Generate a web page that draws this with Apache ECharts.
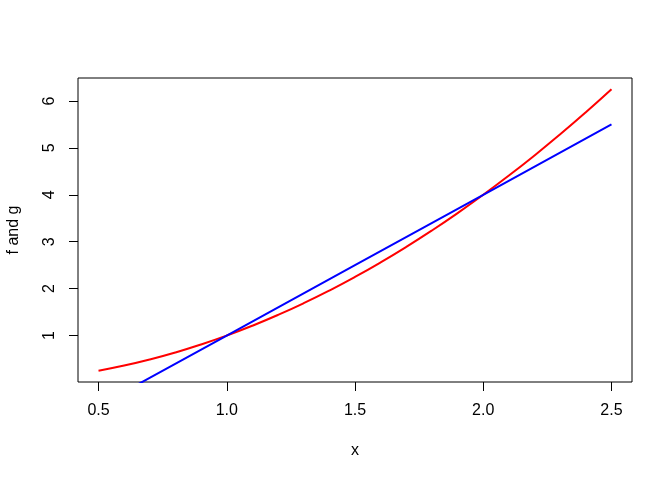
<!DOCTYPE html>
<html>
<head>
<meta charset="utf-8">
<script src="https://cdn.jsdelivr.net/npm/echarts@6/dist/echarts.min.js"></script>
<style>html,body{margin:0;padding:0;background:#fff}#c{width:672px;height:480px}</style>
</head>
<body>
<div id="c"></div>
<script>
// Data
var xs = [0.5, 0.6, 0.7, 0.8, 0.9, 1.0, 1.1, 1.2, 1.3, 1.4, 1.5, 1.6, 1.7, 1.8, 1.9, 2.0, 2.1, 2.2, 2.3, 2.4, 2.5];
var fValues = [0.25, 0.36, 0.49, 0.64, 0.81, 1.0, 1.21, 1.44, 1.69, 1.96, 2.25, 2.56, 2.89, 3.24, 3.61, 4.0, 4.41, 4.84, 5.29, 5.76, 6.25];
var gX = [0.5, 1.0, 1.5, 2.0, 2.5];
var gValues = [-0.5, 1.0, 2.5, 4.0, 5.5];
var xTicks = [0.5, 1.0, 1.5, 2.0, 2.5];
var yTicks = [1, 2, 3, 4, 5, 6];
var xLabel = 'x';
var yLabel = 'f and g';

var fData = xs.map(function (x, i) { return [x, fValues[i]]; });
var gData = gX.map(function (x, i) { return [x, gValues[i]]; });

var FONT = '"Liberation Sans", Arial, sans-serif';
var chart = echarts.init(document.getElementById('c'));
chart.setOption({
  animation: false,
  backgroundColor: '#fff',
  grid: { left: 78, right: 40, top: 78, bottom: 98, show: true, borderColor: '#000', borderWidth: 1, backgroundColor: 'transparent' },
  xAxis: {
    type: 'value', min: 0.42, max: 2.58,
    axisLine: { show: false },
    splitLine: { show: false },
    axisTick: { show: true, customValues: xTicks, length: 9, inside: false, lineStyle: { color: '#000', width: 1 } },
    axisLabel: { customValues: xTicks, margin: 21, fontSize: 16, color: '#000', fontFamily: FONT,
      formatter: function (v) { return v.toFixed(1); } }
  },
  yAxis: {
    type: 'value', min: 0.01, max: 6.49,
    axisLine: { show: false },
    splitLine: { show: false },
    axisTick: { show: true, customValues: yTicks, length: 9, inside: false, lineStyle: { color: '#000', width: 1 } },
    axisLabel: { customValues: yTicks, margin: 20, rotate: 90, fontSize: 16, color: '#000', fontFamily: FONT }
  },
  series: [
    { type: 'line', data: fData, showSymbol: false, smooth: true, clip: true, lineStyle: { color: '#ff0000', width: 2 }, itemStyle: { color: '#ff0000' } },
    { type: 'line', data: gData, showSymbol: false, clip: true, lineStyle: { color: '#0000ff', width: 2 }, itemStyle: { color: '#0000ff' } }
  ],
  graphic: [
    { type: 'text', x: 355, y: 443, style: { text: xLabel, font: '16px ' + FONT, fill: '#000', align: 'center', verticalAlign: 'top' } },
    { type: 'text', x: 6, y: 230, rotation: Math.PI / 2, style: { text: yLabel, font: '16px ' + FONT, fill: '#000', align: 'center', verticalAlign: 'top' } }
  ]
});
</script>
</body>
</html>
